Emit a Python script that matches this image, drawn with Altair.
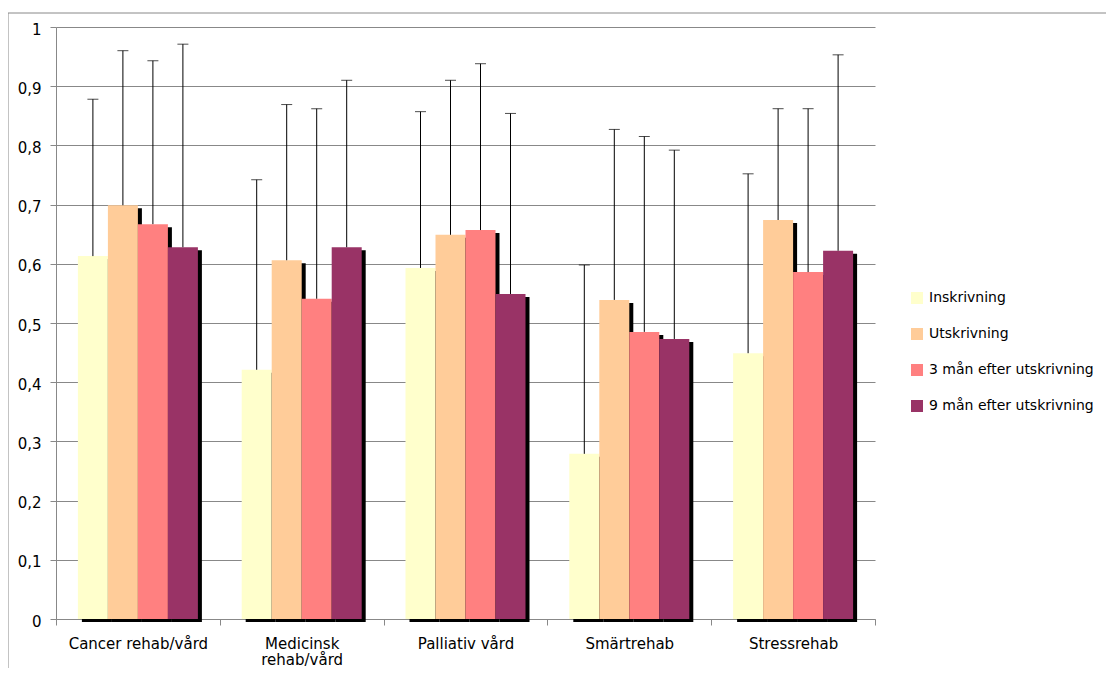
import altair as alt
import pandas as pd

categories = ["Cancer rehab/vård", "Medicinsk rehab/vård", "Palliativ vård", "Smärtrehab", "Stressrehab"]
series = ["Inskrivning", "Utskrivning", "3 mån efter utskrivning", "9 mån efter utskrivning"]
colors = ["#FFFFCC", "#FFCC99", "#FF8080", "#993366"]

inskrivning = [0.613, 0.421, 0.593, 0.279, 0.449]
utskrivning = [0.699, 0.606, 0.649, 0.539, 0.674]
man3 = [0.667, 0.541, 0.657, 0.485, 0.586]
man9 = [0.628, 0.628, 0.549, 0.473, 0.622]

upper_inskrivning = [0.878, 0.742, 0.857, 0.598, 0.752]
upper_utskrivning = [0.960, 0.869, 0.910, 0.827, 0.862]
upper_man3 = [0.943, 0.862, 0.938, 0.815, 0.862]
upper_man9 = [0.971, 0.910, 0.854, 0.792, 0.953]

y_ticks = [0, 0.1, 0.2, 0.3, 0.4, 0.5, 0.6, 0.7, 0.8, 0.9, 1]

values = [inskrivning, utskrivning, man3, man9]
uppers = [upper_inskrivning, upper_utskrivning, upper_man3, upper_man9]
rows = []
for s, vals, ups in zip(series, values, uppers):
    for c, v, u in zip(categories, vals, ups):
        rows.append({"category": c, "series": s, "value": v, "upper": u})
df = pd.DataFrame(rows)

FONT = "DejaVu Sans"
GRAY = "#888888"

x_enc = alt.X(
    "category:N",
    sort=categories,
    scale=alt.Scale(paddingInner=0, paddingOuter=0),
    axis=alt.Axis(
        title=None,
        labelAngle=0,
        tickBand="extent",
        tickSize=6,
        labelPadding=11,
        labelFontSize=15,
        labelFont=FONT,
        labelColor="#000000",
        labelLineHeight=16,
        labelBaseline="top",
        labelExpr="datum.label == 'Medicinsk rehab/vård' ? ['Medicinsk', 'rehab/vård'] : datum.label",
        grid=False,
        domainColor=GRAY,
        tickColor=GRAY,
    ),
)


def xoff(align):
    return alt.XOffset(
        "series:N",
        sort=series,
        scale=alt.Scale(paddingInner=0, paddingOuter=0.73, align=align),
    )


y_enc = alt.Y(
    "value:Q",
    scale=alt.Scale(domain=[0, 1], nice=False),
    axis=alt.Axis(
        title=None,
        values=y_ticks,
        tickSize=6,
        labelPadding=9,
        labelFontSize=15,
        labelFont=FONT,
        labelColor="#000000",
        labelOffset=2,
        labelExpr="replace(format(datum.value, '~g'), '.', ',')",
        grid=True,
        gridColor=GRAY,
        domainColor=GRAY,
        tickColor=GRAY,
    ),
)

shadow = alt.Chart(df).mark_bar(color="#000000", yOffset=3, y2Offset=0.01).encode(
    x=x_enc, xOffset=xoff(0.5913), y=y_enc
)

bars = alt.Chart(df).mark_bar().encode(
    x=x_enc,
    xOffset=xoff(0.5),
    y=y_enc,
    color=alt.Color(
        "series:N",
        sort=series,
        scale=alt.Scale(domain=series, range=colors),
        legend=alt.Legend(
            title=None,
            orient="none",
            legendX=854,
            legendY=264,
            symbolType="square",
            symbolSize=144,
            symbolStrokeWidth=0,
            labelFont=FONT,
            labelFontSize=14,
            labelColor="#000000",
            labelOffset=5,
            rowPadding=22,
            padding=0,
            labelLimit=400,
        ),
    ),
)

err = alt.Chart(df).mark_rule(color="#000000", strokeWidth=1).encode(
    x=x_enc, xOffset=xoff(0.5), y=alt.Y("value:Q"), y2="upper:Q"
)
caps = alt.Chart(df).mark_tick(color="#000000", size=11, thickness=1).encode(
    x=x_enc, xOffset=xoff(0.5), y=alt.Y("upper:Q")
)

one = pd.DataFrame({"k": [0]})
frame_top = alt.Chart(one).mark_rule(color=GRAY, strokeWidth=1).encode(
    x=alt.value(-48), x2=alt.value(1100), y=alt.value(-14)
)
frame_left = alt.Chart(one).mark_rule(color=GRAY, strokeWidth=1).encode(
    x=alt.value(-48), y=alt.value(-14), y2=alt.value(700)
)

chart = (
    alt.layer(frame_top, frame_left, shadow, bars, err, caps)
    .resolve_scale(xOffset="independent")
    .properties(
        width=819,
        height=592,
        autosize=alt.AutoSizeParams(type="none"),
        padding={"left": 48, "top": 19, "right": 231, "bottom": 49},
    )
    .configure(background="#ffffff")
    .configure_view(strokeWidth=0, stroke="transparent")
)

chart.save("out.html", embed_options={"renderer": "svg", "actions": False})
